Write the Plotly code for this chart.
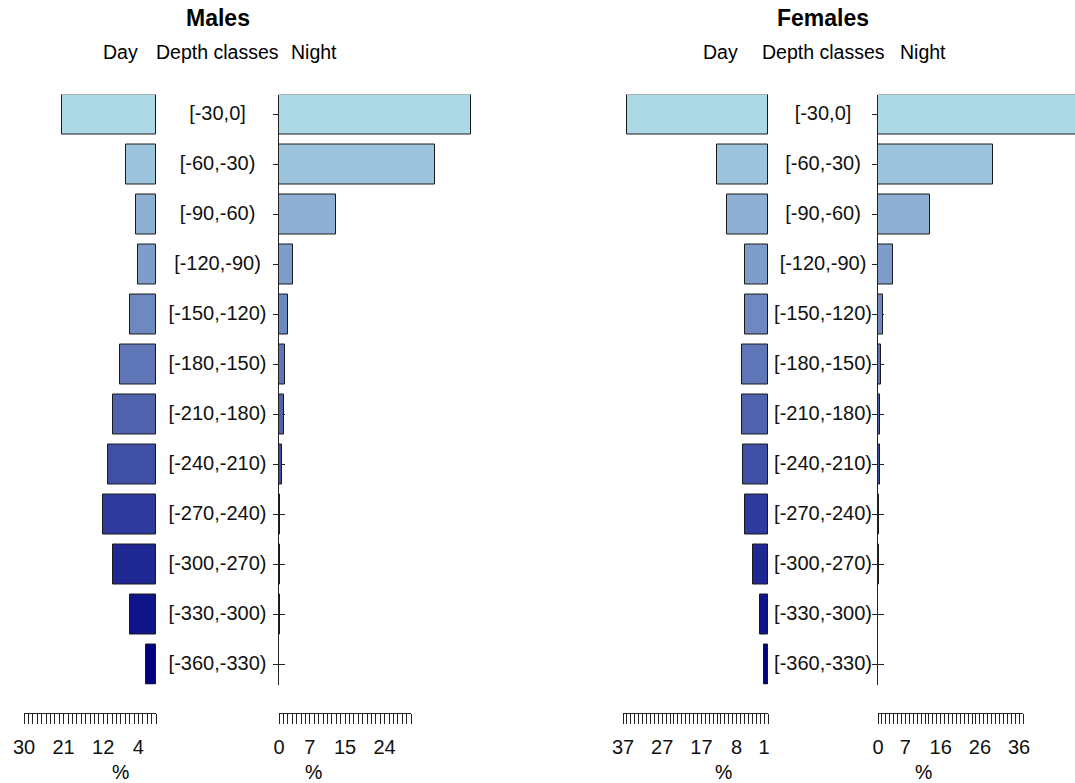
import plotly.graph_objects as go

# ---------------- data ----------------
depth_classes = ["[-30,0]", "[-60,-30)", "[-90,-60)", "[-120,-90)", "[-150,-120)",
                 "[-180,-150)", "[-210,-180)", "[-240,-210)", "[-270,-240)",
                 "[-300,-270)", "[-330,-300)", "[-360,-330)"]

males_day = [21.3, 6.9, 4.5, 4.2, 5.9, 8.2, 9.8, 11.0, 12.0, 9.8, 6.0, 2.2]
males_night = [43.6, 35.5, 12.9, 3.25, 2.0, 1.4, 1.07, 0.7, 0.25, 0.15, 0.2, 0.1]
females_day = [35.9, 13.1, 10.5, 5.9, 5.9, 6.6, 6.6, 6.3, 5.8, 3.75, 1.96, 1.0]
females_night = [51.0, 29.3, 13.3, 3.9, 1.35, 0.75, 0.5, 0.4, 0.2, 0.15, 0.1, 0.1]

males_day_ticks = [30, 21, 12, 4]
males_night_ticks = [0, 7, 15, 24]
females_day_ticks = [37, 27, 17, 8, 1]
females_night_ticks = [0, 7, 16, 26, 36]

# ---------------- style ----------------
W, H = 1075, 783
FONT = "Liberation Sans, Arial, sans-serif"


def ramp(c1, c2, n):
    out = []
    for i in range(n):
        t = i / (n - 1)
        r = round(c1[0] + (c2[0] - c1[0]) * t)
        g = round(c1[1] + (c2[1] - c1[1]) * t)
        b = round(c1[2] + (c2[2] - c1[2]) * t)
        out.append(f"rgb({r},{g},{b})")
    return out


colors = ramp((173, 216, 230), (0, 0, 128), len(depth_classes))


def px_x(a, b):
    return [a / W, b / W]


def py(a):
    return 1 - a / H


ydom = [py(684.5), py(94.5)]
yrange = [len(depth_classes) - 0.6, -0.4]
comb_pos = py(713)

fig = go.Figure()


def add_panel(day, night, s, dayx, midx, nightx, combx, day_max, night_max, comb_max,
              day_ticks, night_ticks):
    ix = [s + i for i in range(4)]
    xa = ["x" if ix[0] == 1 else f"x{ix[0]}", f"x{ix[1]}", f"x{ix[2]}", f"x{ix[3]}"]
    ya = ["y" if ix[0] == 1 else f"y{ix[0]}", f"y{ix[1]}", f"y{ix[2]}", f"y{ix[3]}"]
    # day bars
    fig.add_trace(go.Bar(x=day, y=depth_classes, orientation="h", width=0.8,
                         marker=dict(color=colors, line=dict(color="#1a1a1a", width=1)),
                         xaxis=xa[0], yaxis=ya[0], hoverinfo="skip", showlegend=False))
    # labels
    fig.add_trace(go.Scatter(x=[0] * len(depth_classes), y=depth_classes, mode="text",
                             text=depth_classes, textposition="middle center",
                             textfont=dict(size=20, color="#111", family=FONT),
                             xaxis=xa[1], yaxis=ya[1], hoverinfo="skip", showlegend=False))
    # night bars
    fig.add_trace(go.Bar(x=night, y=depth_classes, orientation="h", width=0.8,
                         marker=dict(color=colors, line=dict(color="#1a1a1a", width=1)),
                         xaxis=xa[2], yaxis=ya[2], hoverinfo="skip", showlegend=False))
    # empty trace so the night percentage scale is drawn
    fig.add_trace(go.Scatter(x=[], y=[], mode="markers", xaxis=xa[3], yaxis=ya[3],
                             hoverinfo="skip", showlegend=False))
    comb = dict(anchor="free", position=comb_pos, side="bottom", showline=True,
                linecolor="#222", linewidth=1, ticks="outside", ticklen=10, tickwidth=1,
                tickcolor="#222", showgrid=False, zeroline=False, automargin=False,
                tickfont=dict(size=20, color="#111", family=FONT),
                ticklabelstandoff=6,
                minor=dict(ticks="outside", ticklen=10, tickwidth=1, tickcolor="#222",
                           dtick=1, tick0=0, showgrid=False))
    lay = {}
    k = lambda n, p: (p if n == 1 else f"{p}{n}")
    lay[k(ix[0], "xaxis")] = dict(domain=px_x(*dayx), range=[day_max, 0], tickmode="array",
                                  tickvals=day_ticks, ticktext=[str(v) for v in day_ticks], **comb)
    lay[k(ix[1], "xaxis")] = dict(domain=px_x(*midx), range=[-1, 1], visible=False,
                                  automargin=False)
    lay[k(ix[2], "xaxis")] = dict(domain=px_x(*nightx), range=[0, night_max], visible=False,
                                  automargin=False)
    lay[k(ix[3], "xaxis")] = dict(domain=px_x(*combx), range=[0, comb_max], tickmode="array",
                                  tickvals=night_ticks, ticktext=[str(v) for v in night_ticks], **comb)
    ybase = dict(domain=ydom, range=yrange, type="category", categoryorder="array",
                 categoryarray=depth_classes, showgrid=False, zeroline=False,
                 showticklabels=False, automargin=False)
    lay[k(ix[0], "yaxis")] = dict(anchor=xa[0], visible=False, **ybase)
    lay[k(ix[1], "yaxis")] = dict(anchor=xa[1], side="right", ticks="inside", ticklen=6,
                                  tickwidth=1, tickcolor="#222", showline=False, **ybase)
    lay[k(ix[2], "yaxis")] = dict(anchor=xa[2], side="left", ticks="inside", ticklen=6,
                                  tickwidth=1, tickcolor="#222", showline=True,
                                  linecolor="#222", linewidth=1, layer="below traces", **ybase)
    lay[k(ix[3], "yaxis")] = dict(anchor=xa[3], visible=False, **ybase)
    fig.update_layout(**lay)


add_panel(males_day, males_night, 1,
          (24, 156), (156, 279), (279, 477), (279, 411), 30, 45, 30,
          males_day_ticks, males_night_ticks)
add_panel(females_day, females_night, 5,
          (623, 768), (768, 878), (878, 1075), (878, 1023), 37, 50.27, 37,
          females_day_ticks, females_night_ticks)

annots = []


def txt(x, y, s, size=19.5, bold=False):
    annots.append(dict(x=x / W, y=py(y), xref="paper", yref="paper", text=(f"<b>{s}</b>" if bold else s),
                       showarrow=False, xanchor="center", yanchor="middle",
                       font=dict(size=size, color="#000", family=FONT)))


txt(218, 18, "Males", 23, True)
txt(120, 52, "Day")
txt(217, 52, "Depth classes")
txt(314, 52, "Night")
txt(120, 772, "%")
txt(313, 772, "%")
txt(823, 18, "Females", 23, True)
txt(720, 52, "Day")
txt(823, 52, "Depth classes")
txt(923, 52, "Night")
txt(723, 772, "%")
txt(923, 772, "%")

fig.update_layout(width=W, height=H, margin=dict(l=0, r=0, t=0, b=0, pad=0, autoexpand=False),
                  paper_bgcolor="white", plot_bgcolor="rgba(0,0,0,0)",
                  annotations=annots, bargap=0, font=dict(family=FONT),
                  showlegend=False)

fig.write_html("out.html", config={"displayModeBar": False},
               post_script="document.body.style.margin='0';")
